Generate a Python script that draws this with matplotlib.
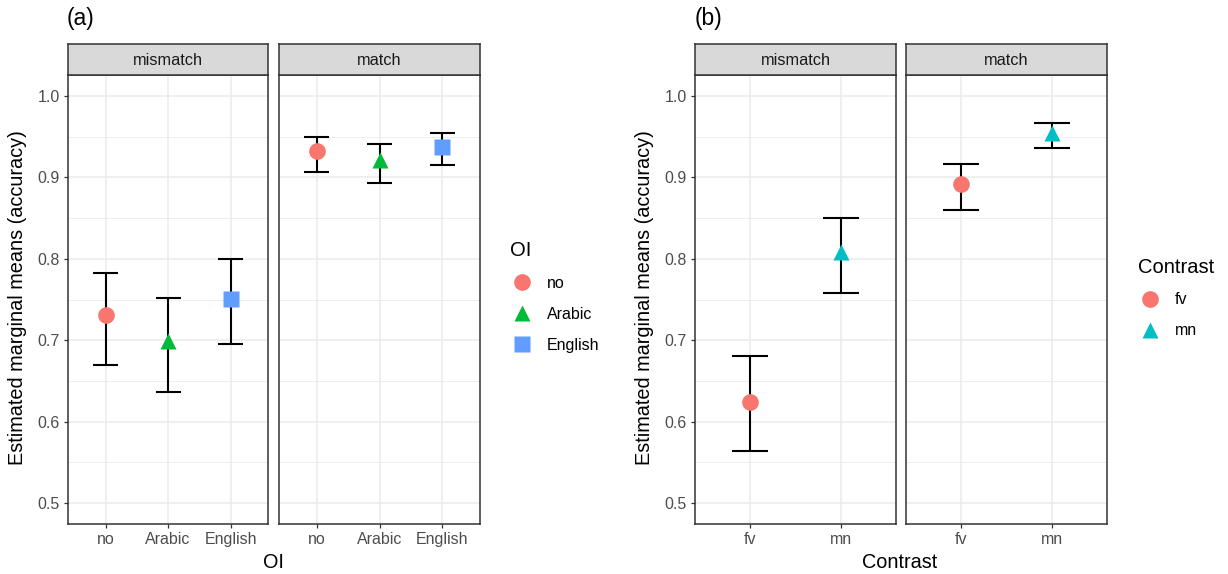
import numpy as np
import matplotlib.pyplot as plt
from matplotlib.lines import Line2D

plt.rcParams['font.family'] = ['Liberation Sans', 'DejaVu Sans']

# panel (a): OI levels, estimated means with lower/upper CI
oi_levels = ['no', 'Arabic', 'English']
oi_mismatch_mean = [0.731, 0.699, 0.751]
oi_mismatch_lo = [0.670, 0.636, 0.695]
oi_mismatch_hi = [0.782, 0.752, 0.800]
oi_match_mean = [0.932, 0.921, 0.938]
oi_match_lo = [0.907, 0.893, 0.915]
oi_match_hi = [0.950, 0.941, 0.955]

# panel (b): Contrast levels
contrast_levels = ['fv', 'mn']
ct_mismatch_mean = [0.624, 0.808]
ct_mismatch_lo = [0.564, 0.758]
ct_mismatch_hi = [0.681, 0.850]
ct_match_mean = [0.892, 0.955]
ct_match_lo = [0.860, 0.936]
ct_match_hi = [0.916, 0.967]

facets = ['mismatch', 'match']

oi_colors = ['#F8766D', '#00BA38', '#619CFF']
oi_markers = ['o', '^', 's']
ct_colors = ['#F8766D', '#00BFC4']
ct_markers = ['o', '^']

W, H = 1228, 574
fig = plt.figure(figsize=(W / 100, H / 100), dpi=100)

def px_axes(x0, y0, x1, y1):
    return fig.add_axes([x0 / W, (H - y1) / H, (x1 - x0) / W, (y1 - y0) / H])

border = '#333333'
tickcol = '#4D4D4D'
ylims = (0.474, 1.026)

def panel(x0, x1, levels, mean, lo, hi, colors, markers, title, show_y):
    ax = px_axes(x0, 75, x1, 524)
    n = len(levels)
    x = np.arange(1, n + 1)
    ax.set_xlim(0.4, n + 0.6)
    ax.set_ylim(*ylims)
    ax.set_yticks([0.5, 0.6, 0.7, 0.8, 0.9, 1.0])
    ax.set_yticks(np.arange(0.55, 1.0, 0.1), minor=True)
    ax.set_xticks(x)
    ax.set_xticklabels(levels)
    ax.grid(True, which='major', color='#EBEBEB', lw=1.1, zorder=0)
    ax.grid(True, which='minor', axis='y', color='#EBEBEB', lw=0.6, zorder=0)
    ax.tick_params(which='minor', length=0)
    ax.tick_params(which='major', length=3, width=0.9, color=border,
                   labelcolor=tickcol, labelsize=11.5, pad=3)
    if show_y:
        ax.set_yticklabels(['0.5', '0.6', '0.7', '0.8', '0.9', '1.0'])
    else:
        ax.tick_params(axis='y', left=False, labelleft=False)
    for s in ax.spines.values():
        s.set_color(border)
        s.set_linewidth(1.1)
    ax.set_axisbelow(True)
    for i in range(n):
        ax.vlines(x[i], lo[i], hi[i], color='black', lw=1.5, zorder=3)
        ax.hlines([lo[i], hi[i]], x[i] - 0.2, x[i] + 0.2, color='black', lw=1.5, zorder=3)
        ax.plot(x[i], mean[i], marker=markers[i], color=colors[i], ms=12 if markers[i] != 's' else 11,
                mec='none', zorder=4)
    # facet strip
    st = px_axes(x0, 44, x1, 75)
    st.set_facecolor('#D9D9D9')
    st.set_xticks([])
    st.set_yticks([])
    for s in st.spines.values():
        s.set_color(border)
        s.set_linewidth(1.1)
    st.text(0.5, 0.47, title, ha='center', va='center', fontsize=11.8, color='#1A1A1A',
            transform=st.transAxes)
    return ax

# (a)
a1 = panel(68, 268, oi_levels, oi_mismatch_mean, oi_mismatch_lo, oi_mismatch_hi,
           oi_colors, oi_markers, facets[0], True)
a2 = panel(279, 480, oi_levels, oi_match_mean, oi_match_lo, oi_match_hi,
           oi_colors, oi_markers, facets[1], False)
# (b)
b1 = panel(695, 896, contrast_levels, ct_mismatch_mean, ct_mismatch_lo, ct_mismatch_hi,
           ct_colors, ct_markers, facets[0], True)
b2 = panel(906, 1107, contrast_levels, ct_match_mean, ct_match_lo, ct_match_hi,
           ct_colors, ct_markers, facets[1], False)

ylab = 'Estimated marginal means (accuracy)'
fig.text(18 / W, 1 - 298 / H, ylab, rotation=90, ha='center', va='center', fontsize=14.3)
fig.text(645 / W, 1 - 298 / H, ylab, rotation=90, ha='center', va='center', fontsize=14.3)
fig.text(273 / W, 1 - 562 / H, 'OI', ha='center', va='center', fontsize=14.3)
fig.text(900 / W, 1 - 562 / H, 'Contrast', ha='center', va='center', fontsize=14.3)
fig.text(67 / W, 1 - 18 / H, '(a)', ha='left', va='center', fontsize=16.5)
fig.text(695 / W, 1 - 18 / H, '(b)', ha='left', va='center', fontsize=16.5)

def legend_handles(levels, colors, markers):
    return [Line2D([], [], ls='none', marker=m, color=c, mec='none', ms=12, label=l)
            for l, c, m in zip(levels, colors, markers)]

leg_a = fig.legend(handles=legend_handles(oi_levels, oi_colors, oi_markers), title='OI',
                   loc='center left', bbox_to_anchor=(496 / W, 1 - 297 / H), frameon=False,
                   fontsize=11.5, title_fontsize=14.5, alignment='left', handletextpad=0.8,
                   labelspacing=1.0, handlelength=1.5)
leg_b = fig.legend(handles=legend_handles(contrast_levels, ct_colors, ct_markers),
                   title='Contrast', loc='center left', bbox_to_anchor=(1124 / W, 1 - 298 / H),
                   frameon=False, fontsize=11.5, title_fontsize=14.5, alignment='left',
                   handletextpad=0.8, labelspacing=1.0, handlelength=1.5)

fig.savefig('out.png', dpi=100, facecolor='white')
